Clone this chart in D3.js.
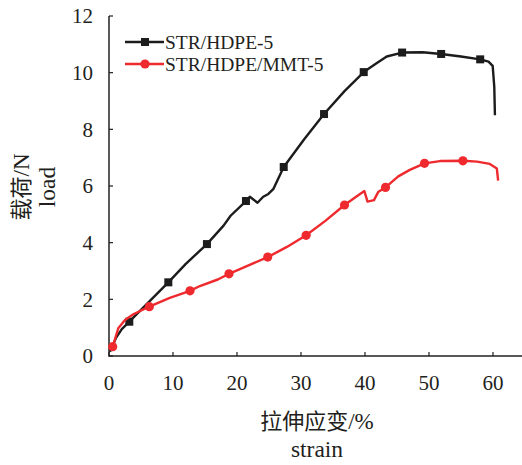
<!DOCTYPE html>
<html>
<head>
<meta charset="utf-8">
<script src="https://cdn.jsdelivr.net/npm/d3@7"></script>
<style>
  body { margin: 0; background: #fff; }
  svg text { font-family: "Liberation Serif", "Times New Roman", serif; fill: #231f20; }
  .cjk { font-family: "Noto Sans CJK SC", sans-serif; }
</style>
</head>
<body>
<div id="chart"></div>
<script>
const seriesNames = ['STR/HDPE-5', 'STR/HDPE/MMT-5'];
const seriesColors = ['#1c1c1c', '#ee2a2e'];

// STR/HDPE-5 (strain %, load N)
const strainBlack = [0.15, 1.1, 2.0, 3.17, 6.2, 9.27, 12.0, 15.3, 17.9, 19.0, 21.4, 22.0, 23.2, 24.1, 24.9, 25.7,
  27.3, 30.5, 33.6, 36.8, 39.8, 41.8, 43.4, 45.8, 49.0, 51.9, 55.0, 58.0, 59.3, 59.95, 60.2, 60.3];
const loadBlack = [0.15, 0.64, 0.95, 1.21, 1.9, 2.6, 3.25, 3.95, 4.6, 4.95, 5.47, 5.62, 5.41, 5.62, 5.72, 5.9,
  6.67, 7.65, 8.54, 9.35, 10.02, 10.33, 10.57, 10.71, 10.72, 10.66, 10.57, 10.47, 10.39, 10.24, 9.5, 8.5];
const markersBlack = [3, 5, 7, 10, 16, 18, 20, 23, 25, 27];

// STR/HDPE/MMT-5
const strainRed = [0.1, 0.58, 1.45, 2.5, 3.8, 4.85, 6.3, 9.5, 12.66, 14.2, 17.0, 18.75, 21.8, 24.8, 27.8, 30.8,
  33.8, 36.8, 38.5, 39.9, 40.4, 41.4, 42.1, 43.2, 45.2, 47.0, 49.3, 51.7, 55.3, 57.5, 59.5, 60.6, 60.8];
const loadRed = [0.25, 0.33, 0.98, 1.27, 1.47, 1.59, 1.74, 2.05, 2.3, 2.47, 2.7, 2.9, 3.2, 3.49, 3.85, 4.26,
  4.77, 5.33, 5.6, 5.82, 5.45, 5.5, 5.8, 5.95, 6.34, 6.57, 6.8, 6.88, 6.89, 6.86, 6.78, 6.62, 6.19];
const markersRed = [1, 6, 8, 11, 13, 15, 17, 23, 26, 28];

const xTicks = [0, 10, 20, 30, 40, 50, 60];
const yTicks = [0, 2, 4, 6, 8, 10, 12];

const width = 522, height = 465;
const svg = d3.select('#chart').append('svg')
  .attr('width', width).attr('height', height);

const x = d3.scaleLinear().domain([0, 65]).range([109, 525]);
const y = d3.scaleLinear().domain([0, 12]).range([356, 16]);

// axes
const axisColor = '#231f20';
svg.append('line').attr('x1', x(0)).attr('x2', width).attr('y1', y(0)).attr('y2', y(0))
  .attr('stroke', axisColor).attr('stroke-width', 1.5);
svg.append('line').attr('x1', x(0)).attr('x2', x(0)).attr('y1', y(0) + 0.75).attr('y2', y(12))
  .attr('stroke', axisColor).attr('stroke-width', 1.5);

svg.selectAll('.xt').data(xTicks).enter().append('line')
  .attr('x1', d => x(d)).attr('x2', d => x(d)).attr('y1', y(0)).attr('y2', y(0) - 4)
  .attr('stroke', axisColor).attr('stroke-width', 1.2);
svg.selectAll('.yt').data(yTicks).enter().append('line')
  .attr('x1', x(0)).attr('x2', x(0) + 4).attr('y1', d => y(d)).attr('y2', d => y(d))
  .attr('stroke', axisColor).attr('stroke-width', 1.2);

svg.selectAll('.xl').data(xTicks).enter().append('text')
  .attr('x', d => x(d)).attr('y', 390)
  .attr('text-anchor', 'middle').style('font-size', '21px')
  .text(d => d);
svg.selectAll('.yl').data(yTicks).enter().append('text')
  .attr('x', 93).attr('y', d => y(d)).attr('dy', '0.35em')
  .attr('text-anchor', 'end').style('font-size', '21px')
  .text(d => d);

// axis titles
const xTitle = svg.append('text').attr('x', 317).attr('y', 429)
  .attr('text-anchor', 'middle').style('font-size', '23px');
xTitle.append('tspan').attr('class', 'cjk').style('font-size', '22px').text('拉伸应变');
xTitle.append('tspan').text('/%');
svg.append('text').attr('x', 317).attr('y', 457)
  .attr('text-anchor', 'middle').style('font-size', '23.5px').text('strain');

const yTitle = svg.append('text').attr('transform', 'translate(29,187) rotate(-90)')
  .attr('text-anchor', 'middle').style('font-size', '23px');
yTitle.append('tspan').attr('class', 'cjk').style('font-size', '22px').text('载荷');
yTitle.append('tspan').text('/N');
svg.append('text').attr('transform', 'translate(55,187) rotate(-90)')
  .attr('text-anchor', 'middle').style('font-size', '23.5px').text('load');

// curves
const line = d3.line().x(d => x(d[0])).y(d => y(d[1]));
const series = [
  { pts: d3.zip(strainBlack, loadBlack), marks: markersBlack, shape: 'square' },
  { pts: d3.zip(strainRed, loadRed), marks: markersRed, shape: 'circle' }
];

series.forEach((s, i) => {
  svg.append('path').datum(s.pts)
    .attr('d', line).attr('fill', 'none')
    .attr('stroke', seriesColors[i]).attr('stroke-width', 2.4)
    .attr('stroke-linejoin', 'round');
  const pts = s.marks.map(k => s.pts[k]);
  if (s.shape === 'square') {
    svg.selectAll('.sq').data(pts).enter().append('rect')
      .attr('x', d => x(d[0]) - 4).attr('y', d => y(d[1]) - 4)
      .attr('width', 8).attr('height', 8).attr('fill', seriesColors[i]);
  } else {
    svg.selectAll('.ci').data(pts).enter().append('circle')
      .attr('cx', d => x(d[0])).attr('cy', d => y(d[1]))
      .attr('r', 4.6).attr('fill', seriesColors[i]);
  }
});

// legend
const legendY = [42, 64];
seriesNames.forEach((name, i) => {
  const ly = legendY[i];
  svg.append('line').attr('x1', 125).attr('x2', 164).attr('y1', ly).attr('y2', ly)
    .attr('stroke', seriesColors[i]).attr('stroke-width', 2.4);
  if (i === 0) {
    svg.append('rect').attr('x', 141).attr('y', ly - 4).attr('width', 8).attr('height', 8)
      .attr('fill', seriesColors[i]);
  } else {
    svg.append('circle').attr('cx', 145).attr('cy', ly).attr('r', 4.6).attr('fill', seriesColors[i]);
  }
  svg.append('text').attr('x', 165).attr('y', ly + 6.5)
    .style('font-size', '19.5px').text(name);
});
</script>
</body>
</html>
